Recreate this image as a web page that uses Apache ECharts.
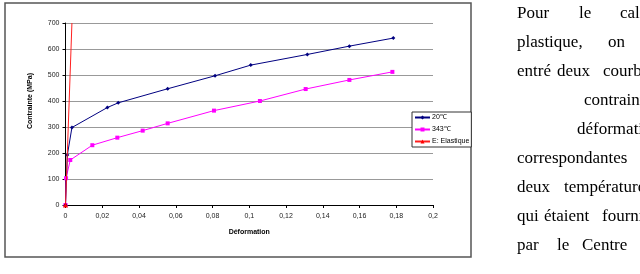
<!DOCTYPE html>
<html>
<head>
<meta charset="utf-8">
<script src="https://cdn.jsdelivr.net/npm/echarts@6/dist/echarts.min.js"></script>
<style>
html,body{margin:0;padding:0;background:#fff;}
#c{width:640px;height:274px;}
</style>
</head>
<body>
<div id="c"></div>
<script>
// ---- data ----
var seriesNames = ['20℃', '343℃', 'E: Elastique'];
var data20 = [[0,0],[0.001,192],[0.0035,298],[0.0228,375],[0.0287,393],[0.0556,447],[0.0814,497],[0.1008,538],[0.1316,579],[0.1545,611],[0.1784,642]];
var data343 = [[0,0],[0.0003,103],[0.0026,173],[0.0146,230],[0.0282,259],[0.042,286],[0.0556,314],[0.0808,363],[0.1058,400],[0.1307,446],[0.1545,481],[0.1779,512]];
var dataElastique = [[0,0],[0.0035,700]];
var xTicks = [0,0.02,0.04,0.06,0.08,0.1,0.12,0.14,0.16,0.18,0.2];
var yTicks = [0,100,200,300,400,500,600,700];
var xTitle = 'Déformation';
var yTitle = 'Contrainte (MPa)';
var textLines = [
  ['Pour','le','calcul'],
  ['plastique,','on'],
  ['entré','deux','courbes'],
  ['contraintes'],
  ['déformations'],
  ['correspondantes'],
  ['deux','températures'],
  ['qui','étaient','fournies'],
  ['par','le','Centre']
];

// ---- layout ----
var wordX = [
  [517,579,620],
  [517,557,603],
  [517,557,603],
  [584],
  [577],
  [517],
  [517,564],
  [517,544,602],
  [517,557,582]
];
wordX[1] = [517,608];
var lineY0 = 14, lineStep = 28.9;

var graphics = [
  {type:'rect', shape:{x:5,y:3,width:466,height:254}, style:{fill:'none', stroke:'#555', lineWidth:1.5}, z:0},
  {type:'text', x:30, y:101, rotation:Math.PI/2, style:{text:yTitle, font:'bold 7px "Liberation Sans", Arial', fill:'#000', align:'center', verticalAlign:'middle'}}
];
textLines.forEach(function(words, i){
  words.forEach(function(w, j){
    graphics.push({type:'text', x:wordX[i][j], y:lineY0 + i*lineStep, style:{text:w, font:'17px "Liberation Serif", "Times New Roman", serif', fill:'#000', align:'left', verticalAlign:'middle'}});
  });
});

function fmt(v){
  return String(Math.round(v*100)/100).replace('.', ',');
}

var chart = echarts.init(document.getElementById('c'), null, {renderer:'canvas'});
chart.setOption({
  animation:false,
  backgroundColor:'#fff',
  textStyle:{fontFamily:'"Liberation Sans", Arial, sans-serif'},
  grid:{left:65.5, right:207, top:23, bottom:69, containLabel:false},
  legend:{
    orient:'vertical', left:412, top:112,
    data:seriesNames,
    itemWidth:15, itemHeight:5, itemGap:5,
    padding:[2,2,2,2],
    borderColor:'#333', borderWidth:1,
    backgroundColor:'#fff',
    textStyle:{fontSize:7, color:'#000', padding:[0,0,0,-3]}
  },
  xAxis:{
    type:'value', min:xTicks[0], max:xTicks[xTicks.length-1], interval:0.02,
    name:xTitle, nameLocation:'middle', nameGap:24,
    nameTextStyle:{fontSize:7, fontWeight:'bold', color:'#000'},
    axisLine:{lineStyle:{color:'#000', width:1}},
    axisTick:{show:true, inside:false, length:3, lineStyle:{color:'#000'}},
    axisLabel:{fontSize:7, color:'#222', margin:8, formatter:fmt},
    splitLine:{show:false}
  },
  yAxis:{
    type:'value', min:yTicks[0], max:yTicks[yTicks.length-1], interval:100,
    axisLine:{show:true, lineStyle:{color:'#000', width:1}},
    axisTick:{show:true, inside:false, length:3, lineStyle:{color:'#000'}},
    axisLabel:{fontSize:7, color:'#222', margin:6},
    splitLine:{show:true, lineStyle:{color:'#999', width:1}}
  },
  series:[
    {name:seriesNames[0], type:'line', data:data20, symbol:'diamond', symbolSize:4,
     lineStyle:{color:'#000080', width:1}, itemStyle:{color:'#000080'}, z:3},
    {name:seriesNames[1], type:'line', data:data343, symbol:'rect', symbolSize:4,
     lineStyle:{color:'#ff00ff', width:1}, itemStyle:{color:'#ff00ff'}, z:2},
    {name:seriesNames[2], type:'line', data:dataElastique.map(function(p,i){ return i===0 ? {value:p} : {value:p, symbol:'none'}; }),
     symbol:'triangle', symbolSize:5,
     lineStyle:{color:'#ff2020', width:1}, itemStyle:{color:'#ff0000'}, z:4}
  ],
  graphic:graphics
});
</script>
</body>
</html>
